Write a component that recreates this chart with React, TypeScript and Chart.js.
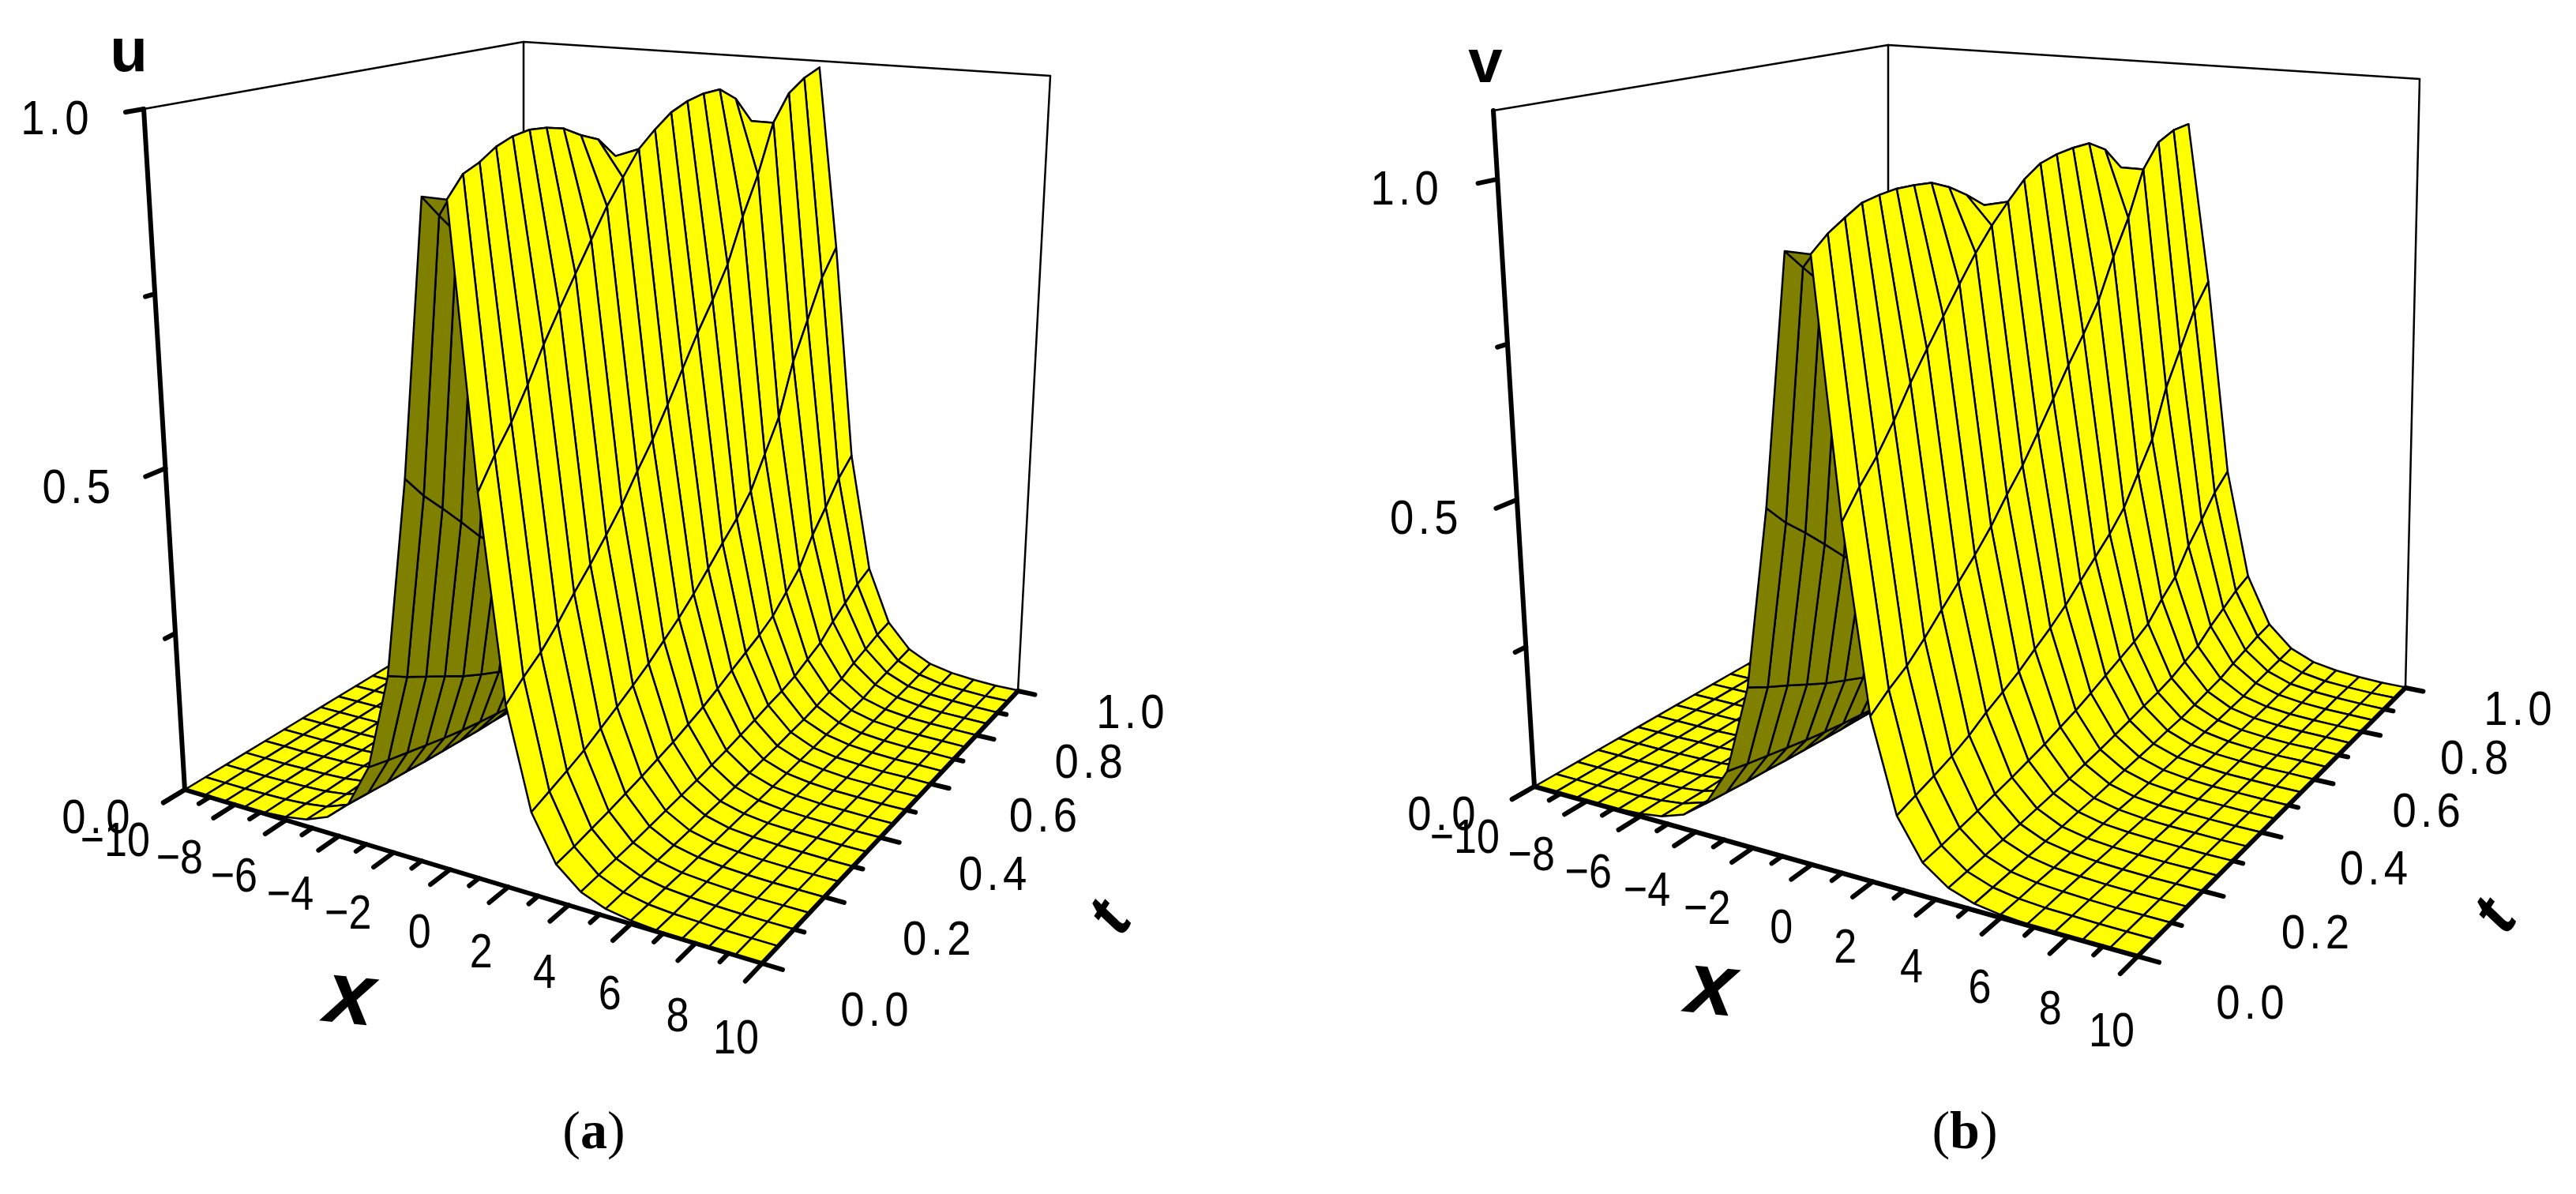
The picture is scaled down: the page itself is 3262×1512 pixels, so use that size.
import React, { useEffect, useRef } from "react";
import { Chart, registerables } from "chart.js";
Chart.register(...registerables);

const xNodes = [-10,-9.2,-8.4,-7.6,-6.8,-6,-5.2,-4.4,-3.6,-2.8,-2,-1.2,-.4,.4,1.2,2,2.8,3.6,4.4,5.2,6,6.8,7.6,8.4,9.2,10];
const tNodes = [0,.05,.1,.15,.2,.25,.3,.35,.4,.45,.5,.55,.6,.65,.7,.75,.8,.85,.9,.95,1];
const xTickLabels = [-10,-8,-6,-4,-2,0,2,4,6,8,10];
const xMinorTicks = [-9,-7,-5,-3,-1,1,3,5,7,9];
const tTickLabels = [0,.2,.4,.6,.8,1];
const tMinorTicks = [.1,.3,.5,.7,.9];
const zTickLabels = [0,.5,1];
const zMinorTicks = [.25,.75];

const uSurface = [
[0,0,0,.001,.002,.005,.011,.025,.055,.121,.266,.552,.925,.925,.552,.266,.121,.055,.025,.011,.005,.002,.001,0,0,0],
[0,0,0,.001,.002,.005,.010,.023,.051,.112,.247,.516,.895,.951,.590,.288,.131,.059,.027,.012,.005,.002,.001,0,0,0],
[0,0,0,.001,.002,.004,.009,.021,.047,.104,.230,.485,.865,.960,.623,.307,.141,.064,.029,.013,.006,.003,.001,0,0,0],
[0,0,0,.001,.002,.004,.009,.019,.044,.096,.213,.452,.830,.974,.663,.332,.152,.069,.031,.014,.006,.003,.001,0,0,0],
[0,0,0,.001,.002,.004,.008,.018,.040,.088,.195,.417,.787,.982,.708,.361,.166,.075,.034,.015,.007,.003,.001,0,0,0],
[0,0,0,.001,.001,.003,.007,.016,.037,.081,.180,.388,.748,.985,.748,.388,.180,.081,.037,.016,.007,.003,.001,0,0,0],
[0,0,0,0,.001,.003,.007,.015,.034,.075,.166,.361,.708,.982,.787,.417,.195,.088,.040,.018,.008,.004,.002,.001,0,0],
[0,0,0,0,.001,.003,.006,.014,.031,.070,.154,.335,.668,.975,.826,.448,.211,.095,.043,.019,.009,.004,.002,.001,0,0],
[0,0,0,0,.001,.003,.006,.013,.029,.064,.141,.307,.623,.960,.865,.485,.230,.104,.047,.021,.009,.004,.002,.001,0,0],
[0,0,0,0,.001,.002,.005,.012,.026,.059,.130,.284,.585,.948,.898,.520,.249,.113,.051,.023,.010,.005,.002,.001,0,0],
[0,0,0,0,.001,.002,.005,.011,.024,.054,.119,.261,.543,.918,.931,.561,.271,.124,.056,.025,.011,.005,.002,.001,0,0],
[0,0,0,0,.001,.002,.004,.010,.022,.050,.109,.240,.503,.883,.952,.604,.296,.136,.061,.027,.012,.006,.002,.001,0,0],
[0,0,0,0,.001,.002,.004,.009,.020,.045,.099,.219,.464,.844,.970,.648,.322,.148,.067,.030,.013,.006,.003,.001,.001,0],
[0,0,0,0,.001,.002,.004,.008,.018,.041,.092,.203,.433,.806,.980,.688,.347,.160,.072,.032,.015,.007,.003,.001,.001,0],
[0,0,0,0,.001,.002,.003,.008,.017,.038,.084,.186,.399,.763,.985,.733,.378,.175,.079,.036,.016,.007,.003,.001,.001,0],
[0,0,0,0,.001,.001,.003,.007,.015,.033,.074,.163,.354,.698,.985,.797,.425,.199,.090,.041,.018,.008,.004,.002,.001,0],
[0,0,0,0,.001,.001,.003,.006,.013,.029,.065,.145,.317,.638,.965,.853,.473,.224,.101,.046,.020,.009,.004,.002,.001,0],
[0,0,0,0,0,.001,.002,.005,.011,.025,.055,.121,.266,.552,.925,.925,.552,.266,.121,.055,.025,.011,.005,.002,.001,0],
[0,0,0,0,0,.001,.002,.004,.010,.022,.049,.108,.237,.498,.880,.963,.609,.299,.137,.062,.028,.012,.006,.003,.001,0],
[0,0,0,0,0,.001,.002,.004,.009,.019,.043,.095,.211,.448,.826,.980,.668,.335,.154,.070,.031,.014,.006,.003,.001,.001],
[0,0,0,0,0,.001,.002,.004,.008,.018,.040,.088,.195,.417,.787,.990,.708,.361,.166,.075,.034,.015,.007,.003,.001,.001],
];
const vSurface = [
[0,0,0,.001,.002,.005,.011,.025,.055,.121,.271,.563,.944,.944,.563,.271,.121,.055,.025,.011,.005,.002,.001,0,0,0],
[0,0,0,.001,.002,.005,.010,.023,.051,.112,.252,.526,.913,.965,.602,.294,.131,.059,.027,.012,.005,.002,.001,0,0,0],
[0,0,0,.001,.002,.004,.009,.021,.047,.104,.235,.495,.882,.980,.635,.313,.141,.064,.029,.013,.006,.003,.001,0,0,0],
[0,0,0,.001,.002,.004,.009,.019,.044,.096,.217,.461,.847,.994,.676,.339,.152,.069,.031,.014,.006,.003,.001,0,0,0],
[0,0,0,.001,.002,.004,.008,.018,.040,.088,.199,.425,.803,.998,.722,.368,.166,.075,.034,.015,.007,.003,.001,0,0,0],
[0,0,0,.001,.001,.003,.007,.016,.037,.081,.184,.396,.763,1.0,.763,.396,.184,.081,.037,.016,.007,.003,.001,0,0,0],
[0,0,0,0,.001,.003,.007,.015,.034,.075,.169,.368,.722,.998,.803,.425,.199,.088,.040,.018,.008,.004,.002,.001,0,0],
[0,0,0,0,.001,.003,.006,.014,.031,.070,.157,.342,.681,.994,.843,.457,.215,.095,.043,.019,.009,.004,.002,.001,0,0],
[0,0,0,0,.001,.003,.006,.013,.029,.064,.144,.313,.635,.980,.882,.495,.235,.104,.047,.021,.009,.004,.002,.001,0,0],
[0,0,0,0,.001,.002,.005,.012,.026,.059,.133,.290,.597,.960,.916,.530,.254,.113,.051,.023,.010,.005,.002,.001,0,0],
[0,0,0,0,.001,.002,.005,.011,.024,.054,.121,.266,.554,.936,.945,.572,.276,.124,.056,.025,.011,.005,.002,.001,0,0],
[0,0,0,0,.001,.002,.004,.010,.022,.050,.111,.245,.513,.901,.972,.616,.302,.136,.061,.027,.012,.006,.002,.001,0,0],
[0,0,0,0,.001,.002,.004,.009,.020,.045,.101,.223,.473,.861,.990,.661,.328,.148,.067,.030,.013,.006,.003,.001,.001,0],
[0,0,0,0,.001,.002,.004,.008,.018,.041,.094,.207,.442,.822,.997,.702,.354,.160,.072,.032,.015,.007,.003,.001,.001,0],
[0,0,0,0,.001,.002,.003,.008,.017,.038,.086,.190,.407,.778,1.0,.748,.386,.175,.079,.036,.016,.007,.003,.001,.001,0],
[0,0,0,0,.001,.001,.003,.007,.015,.033,.075,.166,.361,.712,1.0,.813,.434,.203,.090,.041,.018,.008,.004,.002,.001,0],
[0,0,0,0,.001,.001,.003,.006,.013,.029,.066,.148,.323,.651,.982,.870,.482,.228,.101,.046,.020,.009,.004,.002,.001,0],
[0,0,0,0,0,.001,.002,.005,.011,.025,.056,.123,.271,.563,.944,.944,.563,.271,.121,.055,.025,.011,.005,.002,.001,0],
[0,0,0,0,0,.001,.002,.004,.010,.022,.050,.110,.242,.508,.898,.982,.621,.305,.137,.062,.028,.012,.006,.003,.001,0],
[0,0,0,0,0,.001,.002,.004,.009,.019,.044,.097,.215,.457,.843,.995,.681,.342,.154,.070,.031,.014,.006,.003,.001,.001],
[0,0,0,0,0,.001,.002,.004,.008,.018,.041,.090,.199,.425,.803,.998,.722,.368,.166,.075,.034,.015,.007,.003,.001,.001],
];

type Pt = [number, number];
type Homography = (a: number, b: number) => Pt;

function homography(p0: Pt, p1: Pt, p2: Pt, p3: Pt): Homography {
  const dx3 = p0[0] - p1[0] + p2[0] - p3[0], dy3 = p0[1] - p1[1] + p2[1] - p3[1];
  const dx1 = p1[0] - p2[0], dx2 = p3[0] - p2[0], dy1 = p1[1] - p2[1], dy2 = p3[1] - p2[1];
  const den = dx1 * dy2 - dx2 * dy1;
  const g = (dx3 * dy2 - dx2 * dy3) / den, h = (dx1 * dy3 - dx3 * dy1) / den;
  const a = p1[0] - p0[0] + g * p1[0], b = p3[0] - p0[0] + h * p3[0];
  const d = p1[1] - p0[1] + g * p1[1], e = p3[1] - p0[1] + h * p3[1];
  return (u, v) => {
    const q = g * u + h * v + 1;
    return [(a * u + b * v + p0[0]) / q, (d * u + e * v + p0[1]) / q];
  };
}

interface PanelCfg {
  left: number; surface: number[][]; zMax: number; w: number;
  base: [Pt, Pt, Pt, Pt]; top: [Pt, Pt, Pt, Pt];
  zName: string; zNamePos: Pt; xNamePos: Pt; tNamePos: Pt; caption: string; captionPos: Pt; zLabelDx: number;
}

const panels: PanelCfg[] = [
  { left: 0, surface: uSurface, zMax: 1, w: 1.118,
    base: [[234,1000],[965,1220],[1289,875],[663,740]],
    top: [[182,138],[1000,218],[1330,96],[663,53]],
    zName: "u", zNamePos: [163,68], xNamePos: [443,1265], tNamePos: [1408,1164],
    caption: "a", captionPos: [752,1436], zLabelDx: -110 },
  { left: 1631, surface: vSurface, zMax: 1.1, w: 1.13,
    base: [[1943,996],[2707,1211],[3046,871],[2391,739]],
    top: [[1891,140],[2735,218],[3064,100],[2391,57]],
    zName: "v", zNamePos: [1881,82], xNamePos: [2167,1253], tNamePos: [3162,1162],
    caption: "b", captionPos: [2488,1436], zLabelDx: -115 },
];

function Panel({ cfg }: { cfg: PanelCfg }) {
  const ref = useRef<HTMLCanvasElement>(null);
  useEffect(() => {
    const base = homography(...cfg.base), top = homography(...cfg.top);
    const project = (x: number, t: number, z: number) => {
      const fx = (x + 10) / 20;
      const b = base(fx, t), a = top(fx, t - .27 * t * (1 - t));
      const r = z / cfg.zMax;
      const s = r / (r + (1 - r) * cfg.w);
      return { x: b[0] + (a[0] - b[0]) * s, y: b[1] + (a[1] - b[1]) * s };
    };
    const line = (pts: {x:number;y:number}[], width: number) => ({
      data: pts, showLine: true, pointRadius: 0, borderColor: "#000", borderWidth: width,
      fill: false, tension: 0, borderJoinStyle: "round", borderCapStyle: "round",
    });
    const sets: any[] = [];
    // nearest marks come first: Chart.js paints the first dataset last
    sets.push(line([project(-10,0,cfg.zMax), project(-10,0,0), project(10,0,0), project(10,1,0)], 6));
    for (const x of xTickLabels) sets.push(line([project(x,0,0), project(x,-.05,0)], 6));
    for (const x of xMinorTicks) sets.push(line([project(x,0,0), project(x,-.025,0)], 6));
    for (const t of tTickLabels) sets.push(line([project(10,t,0), project(10.6,t,0)], 6));
    for (const t of tMinorTicks) sets.push(line([project(10,t,0), project(10.3,t,0)], 6));
    for (const z of zTickLabels) sets.push(line([project(-10,0,z), project(-10,-.05,z)], 6));
    for (const z of zMinorTicks) sets.push(line([project(-10,0,z), project(-10,-.025,z)], 6));
    for (let j = 0; j < tNodes.length - 1; j++) {
      for (let i = xNodes.length - 2; i >= 0; i--) {
        const q = [
          project(xNodes[i], tNodes[j], cfg.surface[j][i]),
          project(xNodes[i + 1], tNodes[j], cfg.surface[j][i + 1]),
          project(xNodes[i + 1], tNodes[j + 1], cfg.surface[j + 1][i + 1]),
          project(xNodes[i], tNodes[j + 1], cfg.surface[j + 1][i]),
        ];
        let area = 0;
        for (let k = 0; k < 4; k++) {
          const m = q[k], n = q[(k + 1) % 4];
          area += m.x * n.y - n.x * m.y;
        }
        sets.push({
          data: [...q, q[0]], showLine: true, pointRadius: 0, borderColor: "#000", borderWidth: 2.5,
          backgroundColor: area < 0 ? "#ffff00" : "#808000", fill: "shape", tension: 0,
          borderJoinStyle: "round",
        });
      }
    }
    sets.push(line([project(-10,0,cfg.zMax), project(-10,1,cfg.zMax), project(10,1,cfg.zMax), project(10,1,0)], 2.5));
    sets.push(line([project(-10,1,cfg.zMax), project(-10,1,0)], 2.5));

    const labels = {
      id: "labels",
      afterDatasetsDraw(chart: any) {
        const c = chart.ctx as CanvasRenderingContext2D;
        const sx = chart.scales.x, sy = chart.scales.y;
        const px = (a: number) => sx.getPixelForValue(a), py = (a: number) => sy.getPixelForValue(a);
        const text = (s: string, x: number, y: number, font: string, align: CanvasTextAlign, squeeze = 1, rot = 0, gap = 0) => {
          c.save();
          c.translate(px(x), py(y));
          c.rotate(rot);
          c.scale(squeeze, 1);
          c.font = font; c.fillStyle = "#000"; c.textAlign = align; c.textBaseline = "middle";
          (c as any).letterSpacing = gap + "px";
          c.fillText(s, 0, 0);
          c.restore();
        };
        const tick = '62px "Liberation Sans"';
        for (const x of xTickLabels) {
          const p = project(x, 0, 0);
          const s = x < 0 ? "\u2212" + Math.abs(x) : String(x);
          text(s, p.x - 44 + 2 * (x + 10), p.y + 67 + 1.5 * (x + 10), tick, "right", .84);
        }
        for (const t of tTickLabels) {
          const p = project(10, t, 0);
          text(t.toFixed(1), p.x + 145, p.y + 62 - 32 * t, tick, "center", .88, 0, 6);
        }
        for (const z of zTickLabels) {
          const p = project(-10, 0, z);
          text(z.toFixed(1), p.x + cfg.zLabelDx, p.y + 38 - 23 * z, tick, "center", .88, 0, 6);
        }
        text(cfg.zName, cfg.zNamePos[0], cfg.zNamePos[1], 'bold 78px "Liberation Sans"', "center");
        text("x", cfg.xNamePos[0], cfg.xNamePos[1], 'italic bold 112px "Liberation Sans"', "center", 1, .1);
        text("t", cfg.tNamePos[0], cfg.tNamePos[1], 'italic bold 84px "Liberation Sans"', "center", 1, -1);
        const capY = cfg.captionPos[1], capX = cfg.captionPos[0];
        c.save();
        c.font = '68px "Liberation Serif"';
        const pw = c.measureText("(").width;
        c.font = 'bold 68px "Liberation Serif"';
        const bw = c.measureText(cfg.caption).width;
        c.restore();
        text("(", capX - bw / 2 - pw, capY, '68px "Liberation Serif"', "left");
        text(cfg.caption, capX - bw / 2, capY, 'bold 68px "Liberation Serif"', "left");
        text(")", capX + bw / 2, capY, '68px "Liberation Serif"', "left");
      },
    };

    const chart = new Chart(ref.current!, {
      type: "scatter",
      data: { datasets: sets },
      plugins: [labels],
      options: {
        animation: false, responsive: false, devicePixelRatio: 1, events: [],
        layout: { padding: 0 },
        plugins: { legend: { display: false }, tooltip: { enabled: false }, title: { display: false } },
        scales: {
          x: { type: "linear", display: false, min: cfg.left, max: cfg.left + 1631 },
          y: { type: "linear", display: false, min: 0, max: 1512, reverse: true },
        },
      },
    } as any);
    return () => chart.destroy();
  }, [cfg]);
  return <canvas ref={ref} width={1631} height={1512} style={{ position: "absolute", left: cfg.left, top: 0, width: 1631, height: 1512 }} />;
}

export default function App() {
  return (
    <div style={{ position: "fixed", left: 0, top: 0, width: 3262, height: 1512, background: "#fff", overflow: "hidden" }}>
      {panels.map((p) => <Panel key={p.zName} cfg={p} />)}
    </div>
  );
}
